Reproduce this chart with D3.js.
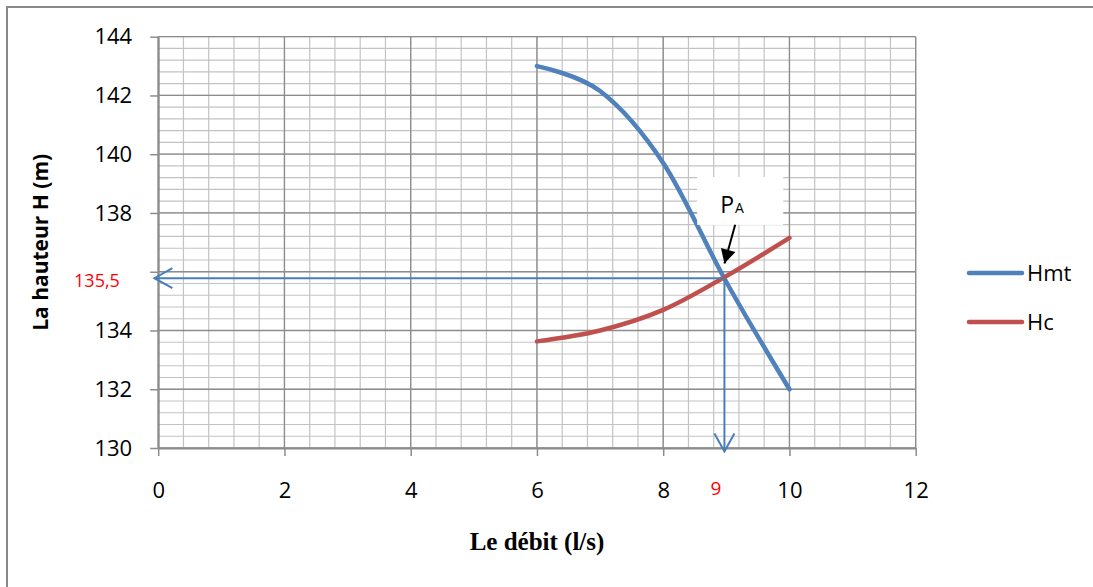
<!DOCTYPE html>
<html>
<head>
<meta charset="utf-8">
<script src="https://cdn.jsdelivr.net/npm/d3@7.9.0/dist/d3.min.js"></script>
<style>
  body { margin: 0; background: #fff; }
  svg { display: block; }
</style>
</head>
<body>
<div id="chart"></div>
<script>
// debit (l/s) and the two curves
const debit = [6, 7, 8, 9, 10];
const hmt = [143, 142.15, 139.7, 135.65, 132];
const hc = [133.63, 134.0, 134.7, 135.85, 137.15];

const xTicks = [0, 2, 4, 6, 8, 10, 12];
const yTicks = [130, 132, 134, 136, 138, 140, 142, 144];
// 136 label is hidden in the original (replaced by the red 135,5)
const yHidden = [136];

// operating point
const pointA = { q: 8.97, h: 135.78, qLabel: '9', hLabel: '135,5' };

const width = 1093;
const height = 587;
const plot = { left: 158.2, right: 915.7, top: 36.7, bottom: 448 };

const svg = d3.select('#chart')
  .append('svg')
  .attr('width', width)
  .attr('height', height);

// outer chart frame (runs off the page on the right/bottom)
svg.append('rect')
  .attr('x', 7).attr('y', 7)
  .attr('width', 1200).attr('height', 700)
  .attr('fill', 'none')
  .attr('stroke', '#898989')
  .attr('stroke-width', 2);

const x = d3.scaleLinear().domain([0, 12]).range([plot.left, plot.right]);
const y = d3.scaleLinear().domain([130, 144]).range([plot.bottom, plot.top]);

// minor grid every 0.4
const minorX = d3.range(0, 12 + 1e-9, 0.4);
const minorY = d3.range(130, 144 + 1e-9, 0.4);

const grid = svg.append('g').attr('class', 'grid');
grid.selectAll('line.vx')
  .data(minorX)
  .join('line')
  .attr('x1', d => x(d)).attr('x2', d => x(d))
  .attr('y1', plot.top).attr('y2', plot.bottom)
  .attr('stroke', '#c3c3c3').attr('stroke-width', 1.2);
grid.selectAll('line.hy')
  .data(minorY)
  .join('line')
  .attr('y1', d => y(d)).attr('y2', d => y(d))
  .attr('x1', plot.left).attr('x2', plot.right)
  .attr('stroke', '#c3c3c3').attr('stroke-width', 1.2);

// major grid
grid.selectAll('line.mx')
  .data(xTicks)
  .join('line')
  .attr('x1', d => x(d)).attr('x2', d => x(d))
  .attr('y1', plot.top).attr('y2', plot.bottom)
  .attr('stroke', '#8c8c8c').attr('stroke-width', 1.3);
grid.selectAll('line.my')
  .data(yTicks)
  .join('line')
  .attr('y1', d => y(d)).attr('y2', d => y(d))
  .attr('x1', plot.left).attr('x2', plot.right)
  .attr('stroke', '#8c8c8c').attr('stroke-width', 1.3);

// axes
const xAxis = svg.append('g')
  .attr('transform', `translate(0, ${plot.bottom})`)
  .call(d3.axisBottom(x).tickValues(xTicks).tickSize(8).tickPadding(26).tickSizeOuter(0));
const yAxis = svg.append('g')
  .attr('transform', `translate(${plot.left}, 0)`)
  .call(d3.axisLeft(y).tickValues(yTicks).tickSize(8).tickPadding(18).tickSizeOuter(0)
    .tickFormat(d => yHidden.includes(d) ? '' : d));

[xAxis, yAxis].forEach(a => {
  a.select('.domain').attr('stroke', '#8c8c8c').attr('stroke-width', 2);
  a.selectAll('.tick line').attr('stroke', '#8c8c8c').attr('stroke-width', 1.5);
  a.selectAll('.tick text')
    .attr('fill', '#000')
    .style('font-family', '"Open Sans", sans-serif')
    .style('font-size', '22px');
});

// curves (excel-style smoothing)
const line = d3.line()
  .x(d => x(d[0]))
  .y(d => y(d[1]))
  .curve(d3.curveCatmullRom.alpha(0));

const series = [
  { name: 'Hmt', values: hmt, color: '#4f81bd' },
  { name: 'Hc', values: hc, color: '#c0504d' },
];

svg.append('g').selectAll('path')
  .data(series)
  .join('path')
  .attr('d', s => line(debit.map((q, i) => [q, s.values[i]])))
  .attr('fill', 'none')
  .attr('stroke', s => s.color)
  .attr('stroke-width', 4.5)
  .attr('stroke-linecap', 'round');

// arrow markers
const defs = svg.append('defs');
defs.append('marker')
  .attr('id', 'open')
  .attr('markerUnits', 'userSpaceOnUse')
  .attr('viewBox', '-20 -12 24 24')
  .attr('markerWidth', 24).attr('markerHeight', 24)
  .attr('refX', 0).attr('refY', 0)
  .attr('orient', 'auto')
  .append('path')
  .attr('d', 'M-18,-10L0,0L-18,10')
  .attr('fill', 'none')
  .attr('stroke', '#4a7ebb')
  .attr('stroke-width', 2);
defs.append('marker')
  .attr('id', 'solid')
  .attr('markerUnits', 'userSpaceOnUse')
  .attr('viewBox', '-16 -9 18 18')
  .attr('markerWidth', 18).attr('markerHeight', 18)
  .attr('refX', 0).attr('refY', 0)
  .attr('orient', 'auto')
  .append('path')
  .attr('d', 'M-14,-7.5L0,0L-14,7.5Z')
  .attr('fill', '#000');

// projection arrows from the operating point
const px = x(pointA.q), py = y(pointA.h);
svg.append('line')
  .attr('x1', px).attr('y1', py)
  .attr('x2', x(-0.06)).attr('y2', py)
  .attr('stroke', '#4a7ebb').attr('stroke-width', 2)
  .attr('marker-end', 'url(#open)');
svg.append('line')
  .attr('x1', px).attr('y1', py)
  .attr('x2', px).attr('y2', y(129.88))
  .attr('stroke', '#4a7ebb').attr('stroke-width', 2)
  .attr('marker-end', 'url(#open)');

// red value labels
svg.append('text')
  .attr('x', 97).attr('y', py + 9)
  .attr('text-anchor', 'middle')
  .attr('fill', '#ff0000')
  .style('font-family', '"Open Sans", sans-serif')
  .style('font-size', '18px')
  .text(pointA.hLabel);
svg.append('text')
  .attr('x', 716).attr('y', 495)
  .attr('text-anchor', 'middle')
  .attr('fill', '#ff0000')
  .style('font-family', '"Open Sans", sans-serif')
  .style('font-size', '19px')
  .text(pointA.qLabel);

// P_A label box + pointer
const bx = x(9.22), by = y(138.41);
svg.append('rect')
  .attr('x', bx - 43).attr('y', by - 24)
  .attr('width', 86).attr('height', 48)
  .attr('fill', '#fff');
const pa = svg.append('text')
  .attr('x', bx - 20).attr('y', by + 12)
  .style('font-family', '"Open Sans", sans-serif')
  .attr('fill', '#000');
pa.append('tspan').style('font-size', '23px').text('P');
pa.append('tspan').attr('dx', 1).style('font-size', '14px').text('A');

svg.append('line')
  .attr('x1', x(9.14)).attr('y1', y(137.6))
  .attr('x2', x(8.97)).attr('y2', y(136.28))
  .attr('stroke', '#000').attr('stroke-width', 2)
  .attr('marker-end', 'url(#solid)');

// axis titles
svg.append('text')
  .attr('transform', `translate(48, ${(plot.top + plot.bottom) / 2}) rotate(-90)`)
  .attr('text-anchor', 'middle')
  .style('font-family', '"Open Sans", sans-serif')
  .style('font-weight', 'bold')
  .style('font-size', '21px')
  .text('La hauteur H (m)');
svg.append('text')
  .attr('x', 537).attr('y', 550)
  .attr('text-anchor', 'middle')
  .style('font-family', '"Liberation Serif", serif')
  .style('font-weight', 'bold')
  .style('font-size', '25px')
  .text('Le débit (l/s)');

// legend
const legend = svg.append('g');
const legendY = [273, 322];
series.forEach((s, i) => {
  legend.append('line')
    .attr('x1', 969).attr('x2', 1022)
    .attr('y1', legendY[i]).attr('y2', legendY[i])
    .attr('stroke', s.color).attr('stroke-width', 4.5)
    .attr('stroke-linecap', 'round');
  legend.append('text')
    .attr('x', 1027).attr('y', legendY[i] + 8)
    .style('font-family', '"Open Sans", sans-serif')
    .style('font-size', '22px')
    .text(s.name);
});
</script>
</body>
</html>
